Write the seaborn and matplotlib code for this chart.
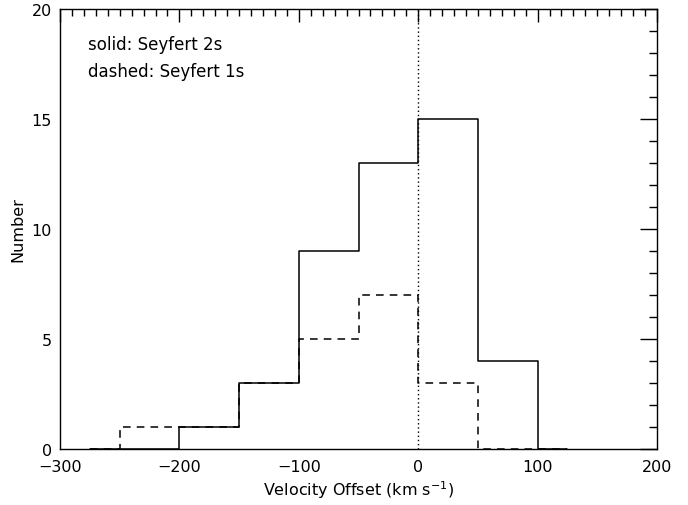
import matplotlib
matplotlib.use("Agg")
import matplotlib.pyplot as plt
import seaborn as sns
import pandas as pd
from matplotlib.ticker import MultipleLocator

# bin centres (IDL psym=10 style histogram) and counts
centers = [-275, -225, -175, -125, -75, -25, 25, 75, 125]
seyfert2 = [0, 0, 1, 3, 9, 13, 15, 4, 0]
seyfert1 = [0, 1, 1, 3, 5, 7, 3, 0, 0]

sns.set_theme(style="white")
plt.rcParams['font.family'] = ['DejaVu Sans']

fig = plt.figure(figsize=(6.88, 5.06), dpi=100)
ax = fig.add_axes([60/688, 56/506, 597/688, 440/506])

df2 = pd.DataFrame({"v": centers, "n": seyfert2})
df1 = pd.DataFrame({"v": centers, "n": seyfert1})
sns.lineplot(data=df2, x="v", y="n", ax=ax, color="black", lw=1.1,
             drawstyle="steps-mid", estimator=None, clip_on=False)
sns.lineplot(data=df1, x="v", y="n", ax=ax, color="black", lw=1.1,
             drawstyle="steps-mid", estimator=None, linestyle=(0, (5, 4)),
             clip_on=False)
ax.axvline(0, color="black", lw=1, linestyle=(0, (1, 2)))

ax.set_xlim(-300, 200)
ax.set_ylim(0, 20)
ax.xaxis.set_major_locator(MultipleLocator(100))
ax.xaxis.set_minor_locator(MultipleLocator(10))
ax.yaxis.set_major_locator(MultipleLocator(5))
ax.yaxis.set_minor_locator(MultipleLocator(1))
ax.tick_params(which="both", direction="in", top=True, right=True,
               colors="black", labelsize=11.5, width=1)
ax.tick_params(axis="x", which="major", length=9, pad=7)
ax.tick_params(axis="x", which="minor", length=5)
ax.tick_params(axis="y", which="major", length=12, pad=6)
ax.tick_params(axis="y", which="minor", length=6)
for s in ax.spines.values():
    s.set_color("black")
    s.set_linewidth(1)

ax.set_xlabel("Velocity Offset (km s$^{-1}$)", fontsize=11.5, labelpad=3,
              color="black")
ax.set_ylabel("Number", fontsize=11.5, labelpad=4, color="black")

ax.text(0.047, 0.92, "solid: Seyfert 2s", transform=ax.transAxes,
        fontsize=12, va="center", ha="left", color="black")
ax.text(0.047, 0.858, "dashed: Seyfert 1s", transform=ax.transAxes,
        fontsize=12, va="center", ha="left", color="black")

fig.savefig("out.png", dpi=100)
